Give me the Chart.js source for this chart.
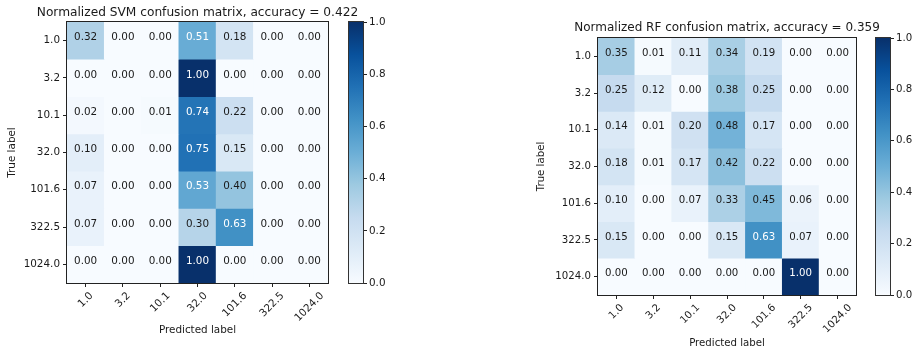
<!DOCTYPE html>
<html lang="en">
<head>
<meta charset="UTF-8">
<title>Confusion matrices</title>
<script src="https://cdn.jsdelivr.net/npm/chart.js"></script>
<style>
  body { margin: 0; background: #fff; overflow: hidden; }
  #wrap { position: relative; width: 913px; height: 350px; }
  canvas { position: absolute; top: 0; }
</style>
</head>
<body>
<div id="wrap">
  <canvas id="svmChart" width="420" height="350" style="left:0px"></canvas>
  <canvas id="svmBar" width="80" height="350" style="left:330px"></canvas>
  <canvas id="rfChart" width="383" height="350" style="left:530px"></canvas>
  <canvas id="rfBar" width="53" height="350" style="left:860px"></canvas>
</div>
<script>
// class labels (true and predicted)
const classLabels = ['1.0', '3.2', '10.1', '32.0', '101.6', '322.5', '1024.0'];

// normalized confusion matrices, one row per true label
const svmMatrix = [
  [0.32, 0.00, 0.00, 0.51, 0.18, 0.00, 0.00],
  [0.00, 0.00, 0.00, 1.00, 0.00, 0.00, 0.00],
  [0.02, 0.00, 0.01, 0.74, 0.22, 0.00, 0.00],
  [0.10, 0.00, 0.00, 0.75, 0.15, 0.00, 0.00],
  [0.07, 0.00, 0.00, 0.53, 0.40, 0.00, 0.00],
  [0.07, 0.00, 0.00, 0.30, 0.63, 0.00, 0.00],
  [0.00, 0.00, 0.00, 1.00, 0.00, 0.00, 0.00]
];
const rfMatrix = [
  [0.35, 0.01, 0.11, 0.34, 0.19, 0.00, 0.00],
  [0.25, 0.12, 0.00, 0.38, 0.25, 0.00, 0.00],
  [0.14, 0.01, 0.20, 0.48, 0.17, 0.00, 0.00],
  [0.18, 0.01, 0.17, 0.42, 0.22, 0.00, 0.00],
  [0.10, 0.00, 0.07, 0.33, 0.45, 0.06, 0.00],
  [0.15, 0.00, 0.00, 0.15, 0.63, 0.07, 0.00],
  [0.00, 0.00, 0.00, 0.00, 0.00, 1.00, 0.00]
];
const svmAccuracy = 0.422;
const rfAccuracy = 0.359;
const colorbarTicks = [0.0, 0.2, 0.4, 0.6, 0.8, 1.0];

const FONT = '"DejaVu Sans"';
const INK = '#1a1a1a';

// matplotlib "Blues" colormap stops
const bluesStops = [
  [247, 251, 255], [222, 235, 247], [198, 219, 239], [158, 202, 225],
  [107, 174, 214], [66, 146, 198], [33, 113, 181], [8, 81, 156], [8, 48, 107]
];

function bluesColor(v) {
  const t = Math.max(0, Math.min(1, v)) * 8;
  const i = Math.min(7, Math.floor(t));
  const f = t - i;
  const a = bluesStops[i], b = bluesStops[i + 1];
  const c = a.map((x, k) => Math.round(x + (b[k] - x) * f));
  return `rgb(${c[0]},${c[1]},${c[2]})`;
}

function heatmap(id, matrix, title, box) {
  const fs = box.fontSize;
  const overlay = {
    id: 'overlay',
    afterDatasetsDraw(chart) {
      const { ctx, chartArea: a, scales: { x, y } } = chart;
      ctx.save();
      // cell values
      ctx.font = `${fs}px ${FONT}`;
      ctx.textAlign = 'center';
      ctx.textBaseline = 'middle';
      matrix.forEach((row, i) => row.forEach((v, j) => {
        ctx.fillStyle = v > 0.5 ? '#ffffff' : INK;
        ctx.fillText(v.toFixed(2), x.getPixelForValue(j), y.getPixelForValue(i + 0.5) - 3);
      }));
      // frame
      ctx.strokeStyle = '#222';
      ctx.lineWidth = 1;
      ctx.strokeRect(a.left - 0.5, a.top - 0.5, a.right - a.left + 1, a.bottom - a.top + 1);
      // rotated x tick labels, centred under each tick
      ctx.fillStyle = INK;
      classLabels.forEach((lab, j) => {
        const w = ctx.measureText(lab).width;
        const cx = x.getPixelForValue(j);
        const cy = a.bottom + 7 + (w + fs * 1.15) * 0.3536;
        ctx.save();
        ctx.translate(cx, cy);
        ctx.rotate(-Math.PI / 4);
        ctx.fillText(lab, 0, 0);
        ctx.restore();
      });
      // title
      ctx.font = `${box.titleSize}px ${FONT}`;
      ctx.textBaseline = 'alphabetic';
      ctx.fillText(title, (a.left + a.right) / 2, box.titleBaseline);
      ctx.restore();
    }
  };

  return new Chart(document.getElementById(id), {
    type: 'bar',
    data: {
      labels: classLabels,
      datasets: matrix.map((row, i) => ({
        data: row.map(() => [i, i + 1]),
        backgroundColor: row.map(bluesColor),
        borderWidth: 0,
        grouped: false,
        barPercentage: 1,
        categoryPercentage: 1
      }))
    },
    options: {
      responsive: false,
      animation: false,
      layout: { padding: { top: box.top, right: box.right, left: 0, bottom: 0 } },
      plugins: { legend: { display: false }, tooltip: { enabled: false } },
      scales: {
        x: {
          grid: { offset: false, drawOnChartArea: false, drawTicks: true, tickLength: 4, color: '#222' },
          border: { display: false },
          ticks: { display: false },
          title: {
            display: true, text: 'Predicted label', color: INK,
            font: { family: FONT, size: fs }, padding: { top: 0, bottom: box.xTitlePad }
          },
          afterFit: s => { s.height = box.xHeight; }
        },
        y: {
          min: 0, max: 7, reverse: true,
          afterBuildTicks: s => { s.ticks = classLabels.map((_, i) => ({ value: i + 0.5 })); },
          grid: { drawOnChartArea: false, drawTicks: true, tickLength: 4, color: '#222' },
          border: { display: false },
          ticks: {
            padding: 3, color: INK, font: { family: FONT, size: fs },
            callback: (v, i) => classLabels[i]
          },
          title: {
            display: true, text: 'True label', color: INK,
            font: { family: FONT, size: fs }, padding: { top: box.yTitlePad, bottom: 0 }
          },
          afterFit: s => { s.width = box.yWidth; }
        }
      }
    },
    plugins: [overlay]
  });
}

function colorbar(id, box) {
  const outline = {
    id: 'outline',
    afterDatasetsDraw(chart) {
      const { ctx, chartArea: a } = chart;
      ctx.save();
      ctx.strokeStyle = '#333';
      ctx.lineWidth = 1;
      ctx.strokeRect(a.left - 0.5, a.top - 0.5, a.right - a.left + 1, a.bottom - a.top + 1);
      ctx.restore();
    }
  };
  return new Chart(document.getElementById(id), {
    type: 'bar',
    data: {
      labels: [''],
      datasets: [{
        data: [[colorbarTicks[0], colorbarTicks[colorbarTicks.length - 1]]],
        backgroundColor: c => {
          const a = c.chart.chartArea;
          if (!a) return bluesColor(0.5);
          const g = c.chart.ctx.createLinearGradient(0, a.bottom, 0, a.top);
          bluesStops.forEach((s, k) => g.addColorStop(k / 8, `rgb(${s[0]},${s[1]},${s[2]})`));
          return g;
        },
        borderWidth: 0,
        barPercentage: 1,
        categoryPercentage: 1
      }]
    },
    options: {
      responsive: false,
      animation: false,
      layout: { padding: { left: box.left, top: box.top, bottom: box.bottom, right: 0 } },
      plugins: { legend: { display: false }, tooltip: { enabled: false } },
      scales: {
        x: { display: false },
        y: {
          position: 'right', min: 0, max: 1,
          afterBuildTicks: s => { s.ticks = colorbarTicks.map(v => ({ value: v })); },
          grid: { drawOnChartArea: false, drawTicks: true, tickLength: 4, color: '#222' },
          border: { display: false },
          ticks: {
            padding: 2, color: INK, font: { family: FONT, size: box.fontSize },
            callback: v => v.toFixed(1)
          },
          afterFit: s => { s.width = box.axisWidth; }
        }
      }
    },
    plugins: [outline]
  });
}

heatmap('svmChart', svmMatrix, 'Normalized SVM confusion matrix, accuracy = ' + svmAccuracy.toFixed(3), {
  top: 22, right: 92, yWidth: 67, xHeight: 67, fontSize: 10.4,
  titleSize: 12.2, titleBaseline: 16.3, yTitlePad: 6, xTitlePad: 13
});
colorbar('svmBar', { left: 19, top: 22, bottom: 67, axisWidth: 47, fontSize: 10.4 });

heatmap('rfChart', rfMatrix, 'Normalized RF confusion matrix, accuracy = ' + rfAccuracy.toFixed(3), {
  top: 38, right: 57, yWidth: 68, xHeight: 55, fontSize: 10.2,
  titleSize: 12.0, titleBaseline: 31, yTitlePad: 5.3, xTitlePad: 1
});
colorbar('rfBar', { left: 16, top: 38, bottom: 55, axisWidth: 23, fontSize: 10.2 });
</script>
</body>
</html>
